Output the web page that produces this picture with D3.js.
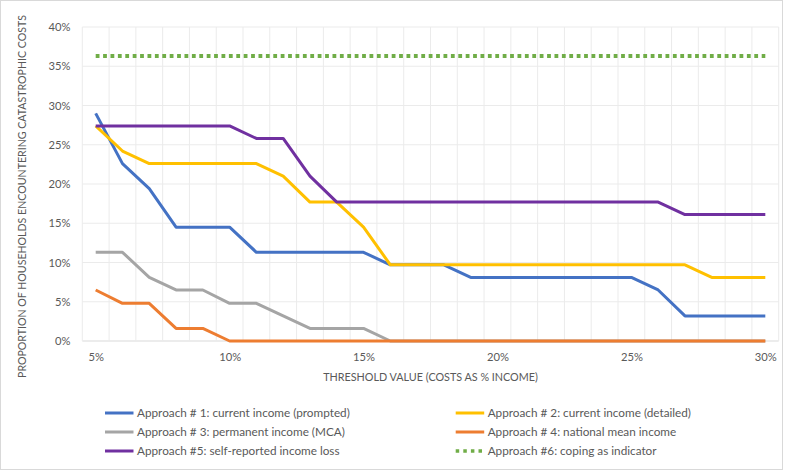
<!DOCTYPE html>
<html>
<head>
<meta charset="utf-8">
<script src="https://cdn.jsdelivr.net/npm/d3@7"></script>
<style>
  html, body { margin: 0; padding: 0; background: #fff; }
  svg { display: block; font-family: Lato, "Open Sans", sans-serif; }
</style>
</head>
<body>
<svg id="chart" width="788" height="471"></svg>
<script>
// ---- data (values in %) ----
const thresholds = [5,6,7,8,9,10,11,12,13,14,15,16,17,18,19,20,21,22,23,24,25,26,27,28,29,30];
const xTickLabels = ["5%","10%","15%","20%","25%","30%"];
const yTicks = [0,5,10,15,20,25,30,35,40];

const approach1 = [29.0,22.6,19.4,14.5,14.5,14.5,11.3,11.3,11.3,11.3,11.3,9.7,9.7,9.7,8.1,8.1,8.1,8.1,8.1,8.1,8.1,6.5,3.2,3.2,3.2,3.2];
const approach2 = [27.4,24.2,22.6,22.6,22.6,22.6,22.6,21.0,17.7,17.7,14.5,9.7,9.7,9.7,9.7,9.7,9.7,9.7,9.7,9.7,9.7,9.7,9.7,8.1,8.1,8.1];
const approach3 = [11.3,11.3,8.1,6.5,6.5,4.8,4.8,3.2,1.6,1.6,1.6,0,0,0,0,0,0,0,0,0,0,0,0,0,0,0];
const approach4 = [6.5,4.8,4.8,1.6,1.6,0,0,0,0,0,0,0,0,0,0,0,0,0,0,0,0,0,0,0,0,0];
const approach5 = [27.4,27.4,27.4,27.4,27.4,27.4,25.8,25.8,21.0,17.7,17.7,17.7,17.7,17.7,17.7,17.7,17.7,17.7,17.7,17.7,17.7,17.7,16.1,16.1,16.1,16.1];
const approach6 = [36.3,36.3,36.3,36.3,36.3,36.3,36.3,36.3,36.3,36.3,36.3,36.3,36.3,36.3,36.3,36.3,36.3,36.3,36.3,36.3,36.3,36.3,36.3,36.3,36.3,36.3];

const seriesNames = [
  "Approach # 1: current income (prompted)",
  "Approach # 2: current income (detailed)",
  "Approach # 3: permanent income (MCA)",
  "Approach # 4: national mean income",
  "Approach #5: self-reported income loss",
  "Approach #6: coping as indicator"
];
const seriesValues = [approach1, approach2, approach3, approach4, approach5, approach6];
const seriesColors = ["#4472C4","#FFC000","#A5A5A5","#ED7D31","#7030A0","#70AD47"];

// ---- layout ----
const plot = {left: 82.3, right: 778.7, top: 27, bottom: 341};
const svg = d3.select("#chart");
const textColor = "#595959";

// size a font so that a reference text takes the target width
function fitSize(sel, target) {
  const base = 12;
  sel.attr("font-size", base);
  const w = sel.node().getComputedTextLength();
  return base * target / w;
}

// border
svg.append("rect").attr("x",0.5).attr("y",0.5).attr("width",782).attr("height",469)
  .attr("fill","#fff").attr("stroke","#d9d9d9").attr("stroke-width",1);

const x = d3.scaleBand().domain(thresholds).range([plot.left, plot.right]).paddingInner(0).paddingOuter(0);
const xc = d => x(d) + x.bandwidth()/2;
const y = d3.scaleLinear().domain([0,40]).range([plot.bottom, plot.top]);

// gridlines
const grid = svg.append("g");
grid.selectAll("line.h").data(yTicks).enter().append("line")
  .attr("x1", plot.left).attr("x2", plot.right)
  .attr("y1", d => y(d)).attr("y2", d => y(d))
  .attr("stroke", d => d === 0 ? "#d9d9d9" : "#ebebeb").attr("stroke-width",1);
const vEdges = thresholds.map(t => x(t)).concat([plot.right]);
grid.selectAll("line.v").data(vEdges).enter().append("line")
  .attr("x1", d => d).attr("x2", d => d)
  .attr("y1", plot.top).attr("y2", plot.bottom)
  .attr("stroke","#ebebeb").attr("stroke-width",1);

// y axis (labels only)
const yAxis = d3.axisLeft(y).tickValues(yTicks).tickFormat(d => d + "%").tickSize(0).tickPadding(0);
const yg = svg.append("g").attr("transform", `translate(70.5,0)`).call(yAxis);
yg.select(".domain").remove();
yg.selectAll("text").attr("fill", textColor).attr("font-family","Lato");
const tickSize = fitSize(yg.selectAll("text").filter(d => d === 40), 22);
yg.selectAll("text").attr("font-size", tickSize);

// x axis (labels only at every 5th)
const xAxis = d3.axisBottom(d3.scalePoint().domain(thresholds).range([xc(5), xc(30)]))
  .tickValues(thresholds.filter(t => t % 5 === 0))
  .tickFormat((d,i) => xTickLabels[i]).tickSize(0).tickPadding(0);
const xg = svg.append("g").attr("transform", `translate(0,353.5)`).call(xAxis);
xg.select(".domain").remove();
xg.selectAll("text").attr("fill", textColor).attr("font-family","Lato").attr("font-size", tickSize);

// axis titles
const xt = svg.append("text").attr("x", (plot.left+plot.right)/2).attr("y", 380.5)
  .attr("text-anchor","middle").attr("fill",textColor)
  .text("THRESHOLD VALUE (COSTS AS % INCOME)");
xt.attr("font-size", fitSize(xt, 215));
const yt = svg.append("text").attr("transform","translate(26,196.5) rotate(-90)")
  .attr("text-anchor","middle").attr("fill",textColor)
  .text("PROPORTION OF HOUSEHOLDS ENCOUNTERING CATASTROPHIC COSTS");
yt.attr("font-size", fitSize(yt, 363));

// lines
const line = d3.line().x((d,i) => xc(thresholds[i])).y(d => y(d));
const lines = svg.append("g");
seriesValues.forEach((vals, k) => {
  const p = lines.append("path").datum(vals)
    .attr("d", line).attr("fill","none")
    .attr("stroke", seriesColors[k])
    .attr("stroke-linejoin","round").attr("stroke-linecap","butt");
  if (k === 5) p.attr("stroke-width",4).attr("stroke-dasharray","3.8,3.6");
  else p.attr("stroke-width",3);
});

// legend
const legendCols = [105, 455.7];
const legendRows = [413, 432, 451];
const legend = svg.append("g");
const legendTexts = [];
seriesNames.forEach((name, k) => {
  const cx = legendCols[k % 2], cy = legendRows[Math.floor(k/2)];
  const l = legend.append("line").attr("x1", cx).attr("x2", cx + 28.5)
    .attr("y1", cy).attr("y2", cy).attr("stroke", seriesColors[k]);
  if (k === 5) l.attr("stroke-width",3.5).attr("stroke-dasharray","3.5,4.1");
  else l.attr("stroke-width",3);
  legendTexts.push(legend.append("text").attr("x", cx + 32).attr("y", cy).attr("dy","0.35em")
    .attr("fill", textColor).text(name));
});
const legSize = fitSize(legendTexts[0], 213);
legendTexts.forEach(t => t.attr("font-size", legSize));
</script>
</body>
</html>
